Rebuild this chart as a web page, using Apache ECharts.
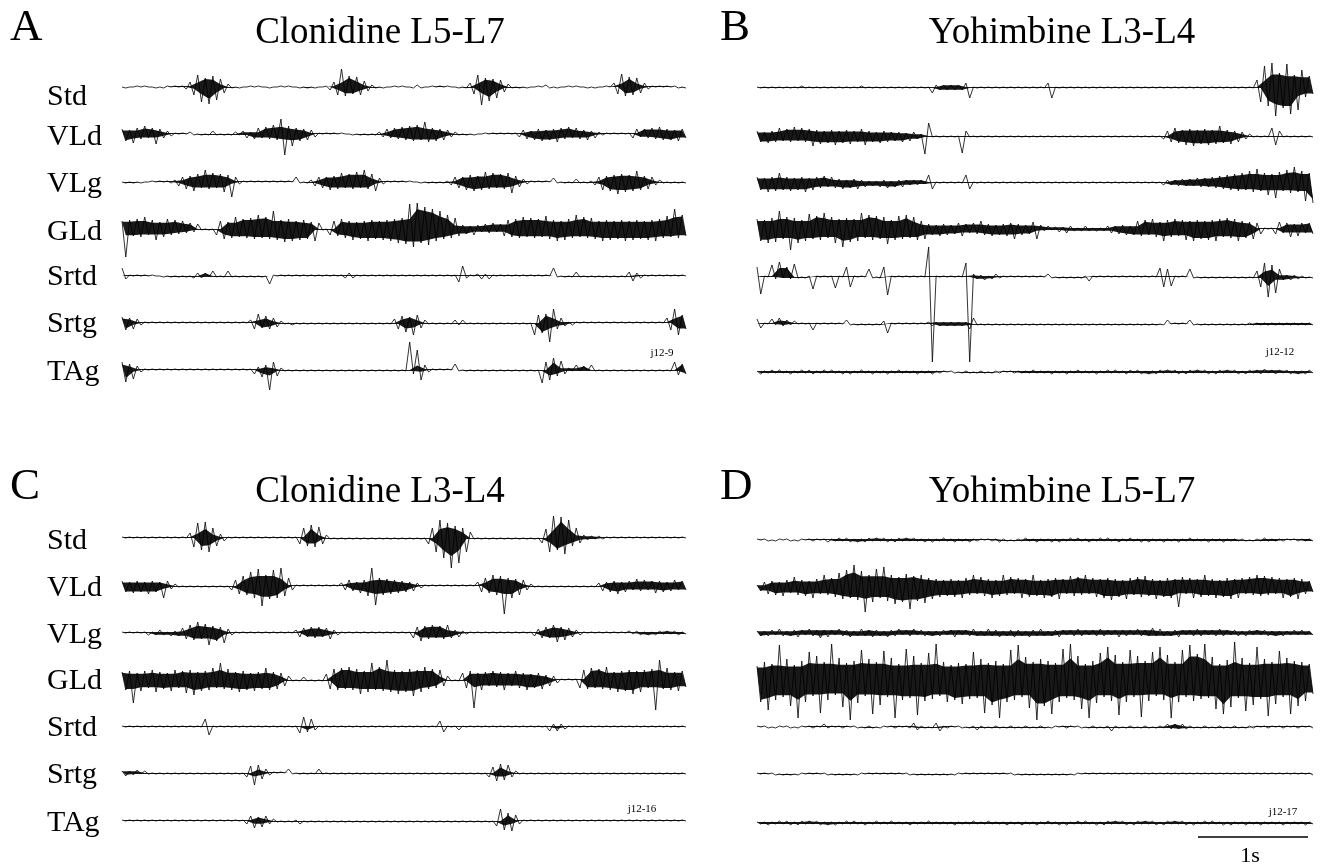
<!DOCTYPE html>
<html>
<head>
<meta charset="utf-8">
<title>EMG clonidine / yohimbine</title>
<script src="https://cdn.jsdelivr.net/npm/echarts@6/dist/echarts.min.js"></script>
<style>
html, body { margin: 0; padding: 0; background: #fff; }
#emg_chart { width: 1322px; height: 865px; }
</style>
</head>
<body>
<div id="emg_chart"></div>
<script>
//text of the figure
var panel_letters = ["A", "B", "C", "D"];
var panel_titles = ["Clonidine L5-L7", "Yohimbine L3-L4", "Clonidine L3-L4", "Yohimbine L5-L7"];
var trace_names = ["Std", "VLd", "VLg", "GLd", "Srtd", "Srtg", "TAg"];
var record_codes = ["j12-9", "j12-12", "j12-16", "j12-17"];
var scale_bar_label = "1s";

//peak excursions, alternately up / down (px)
//A  Clonidine L5-L7
var a_std = [0,1,0,0,1,0,1,0,0,1, 0,1,1,0,1,0,1,
	2,5,8,12,15,9,17,11,13,8, 6,3,
	1,0,1,0,0,1,0,1,0,0, 1,0,0,1,0,1,0,0,1,0, 1,0,1,0,0,1,
	3,5,8,18,9,11,7,10,8,6, 4,2,
	1,0,1,0,0,1,0,1,0,0, 1,2,1,0,0,1,0,1,0,1, 0,0,1,0,1,
	4,7,12,18,9,14,8,11,7,5, 3,
	1,0,1,0,1,0,0,1,0,2, 1,0,1,0,0,1,0,1,0,0, 1,0,1,0,0,1,0,
	4,7,13,9,10,8,9,6,4,2,
	1,0,1,0,1,0,1,1,0,1];
var a_vld = [5,7,4,9,6,5,8,4,6,10, 5,4,3,2,
	1,0,1,0,2,1,0,1,0,1, 3,1,0,1,0,1,2,1,
	3,4,2,5,6,4,7,5,9,6, 15,21,8,12,6,7,5,6,4,3,
	1,0,1,0,1,0,1,0,0,1, 0,1,0,1,0,1,
	2,3,5,4,6,5,7,6,8,7, 9,6,12,8,6,7,5,6,4,3, 2,
	1,0,1,0,1,0,0,1,0,1, 0,1,0,1,0,1,
	3,4,5,3,6,5,7,4,6,5, 8,6,5,7,4,6,5,4,6,3, 4,2,1,
	1,0,1,0,1,0,1,4,5,
	3,5,4,6,5,7,6,5,6,4, 7,5,4];
var a_vlg = [0,1,0,1,0,1,0,0,1,0, 1,0,1,1,
	2,4,5,7,6,9,8,6,12,7, 9,6,8,10,7,15,5,2,
	1,0,1,0,1,0,1,0,1,0, 1,0,1,0,5,1,0,1,
	2,4,5,6,5,8,6,7,9,6, 8,7,10,6,12,7,8,9,4,2,
	1,0,1,0,1,0,1,0,0,1, 0,1,0,1,0,1,1,
	3,5,6,5,8,7,9,6,8,10, 7,9,6,8,7,9,11,6,5,3, 2,
	1,0,1,0,1,0,4,1,0,1, 0,1,3,1,0,1,1,
	3,5,8,6,9,7,12,8,10,7, 9,11,8,6,7,5,3,2,
	1,0,1,0,1,0,1];
var a_gld = [8,28,9,7,10,8,12,6,9,11, 7,8,10,6,9,5,8,4,6,3, 5,
	1,0,1,0,
	6,8,10,7,9,12,8,10,9,11, 10,14,9,12,10,18,11,9,13,10, 12,8,11,9,10,7,12,6,
	1,0,
	6,8,7,10,9,8,11,7,10,8, 12,9,10,8,11,9,12,10,14,11, 15,25,18,26,14,22,16,20,12,18, 10,14,9,11,7,
	4,5,3,6,4,3,5,4,6,3, 5,
	7,9,8,10,9,12,8,11,9,10, 8,13,10,9,12,8,11,10,9,14, 8,12,9,11,10,8,12,9,11,8, 10,9,12,8,11,9,10,8,11,9, 12,10,9,13,8,20,9,14,7];
var a_srtd = [8,3,1,0,1,0,1,0,1,0,
	0,1,0,1,0,1,0,1,0,
	2,3,2,3,1,5,1,0,
	1,5,1,0,1,0,1,0,1,0, 1,0,
	8,1,0,1,0,1,0,1,0,1, 0,1,0,1,0,1,0,1,0,1,
	2,3,2,1,0,1,0,1,0,1, 0,1,0,1,0,1,0,1,0,1, 0,1,0,1,0,1,0,1,0,1,
	6,10,2,1,0,
	2,3,2,3,1,0,1,0,1,0, 1,0,1,0,1,0,1,0,1,0,
	8,1,0,1,0,1,4,1,0,1, 0,1,0,1,0,1,0,1,0,1,
	4,5,3,2,1,0,1,0,1,0, 1,0,1,0,1,0];
var a_srtg = [6,7,5,6,4,2,
	1,0,1,0,1,0,1,0,1,0, 1,0,1,0,1,0,1,0,1,0, 1,0,1,0,1,0,1,0,
	3,6,9,5,7,6,5,4,2,
	1,0,2,0,1,0,1,0,1,0, 1,0,1,0,1,0,1,0,1,0, 1,0,1,0,1,0,1,0,1,
	4,6,7,9,6,12,8,5,3,
	1,0,1,0,1,0,1,
	3,2,3,1,
	0,1,0,1,0,1,0,1,0,1, 0,1,0,1,0,1,0,
	12,8,10,9,19,14,6,5,3,
	1,2,1,0,1,0,1,0,1,0, 1,0,1,0,1,0,1,0,1,0, 1,0,1,0,1,0,
	5,7,14,12,8,6];
var a_tag = [8,12,6,9,4,2,
	1,0,1,0,1,0,1,0,1,0, 1,0,1,0,1,0,1,0,1,0, 1,0,1,0,1,0,1,0,1,
	4,3,7,5,20,8,6,2,
	1,0,1,0,1,0,1,0,1,0, 1,0,1,0,1,0,1,0,1,0, 1,0,1,0,1,0,1,0,1,0, 1,0,1,
	28,4,20,10,5,2,
	1,0,1,0,1,0,
	6,1,
	0,1,0,1,0,1,0,1,0,1, 0,1,0,1,0,1,0,1,0,1, 0,
	13,8,10,12,6,9,4,2,
	1,5,1,4,1,5,1,
	0,1,0,1,0,1,0,1,0,1, 0,1,0,1,0,1,0,1,0,1,
	8,5,6,4];

//B  Yohimbine L3-L4
var b_std = [1,0,1,0,1,0,1,0,1,0, 1,0,2,0,1,0,1,0,1,0, 1,0,1,0,1,0,1,0,2,0, 1,0,1,0,1,0,1,0,1,0, 1,0,1,0,1,0,1,
	5,3,2,3,2,3,2,3,2,5, 10,
	1,0,1,0,1,0,1,0,1,0, 1,0,1,0,1,0,1,0,1,0,
	5,10,
	1,0,1,0,1,0,1,0,1,0, 1,0,1,0,1,0,1,0,1,0, 1,0,1,0,1,0,1,0,1,0, 1,0,1,0,1,0,1,0,1,0, 1,0,1,0,1,0,1,0,1,0, 1,0,1,0,
	8,14,22,18,25,28,15,20,24,26, 13,22,18,9,12,6];
var b_vld = [5,6,4,7,5,6,8,5,7,6, 9,5,8,6,7,10,6,8,5,7, 6,9,5,7,6,8,5,6,7,9, 5,6,4,7,5,6,4,5,4,6, 3,5,4,3,2,
	18,13,
	1,0,1,0,1,0,1,0,
	17,5,
	1,0,1,0,1,0,1,0,1,0, 1,0,1,0,1,0,1,0,1,0, 1,0,1,0,1,0,1,0,1,0, 1,0,1,0,1,0,1,0,1,0, 1,0,1,0,1,0,1,0,1,0, 1,0,
	3,5,6,8,7,6,9,7,10,6, 8,7,9,6,8,10,7,6,8,5, 6,4,3,2,
	1,0,1,0,1,
	8,9,5,
	1,0,1,0,1,0,1,0,1];
var b_vlg = [6,7,5,9,6,8,10,7,6,8, 5,7,6,9,5,7,6,5,7,4, 6,5,4,6,3,5,4,6,3,4, 2,3,2,4,3,5,2,4,3,4, 3,2,3,2,3,1,
	8,6,
	1,0,1,0,1,0,1,0,
	8,6,
	1,0,1,0,1,0,1,0,1,0, 1,0,1,0,1,0,1,0,1,0, 1,0,1,0,1,0,1,0,1,0, 1,0,1,0,1,0,1,0,1,0, 1,0,1,0,1,0,1,0,1,0, 1,
	2,3,2,3,3,4,3,4,3,5, 4,5,4,6,
	5,7,6,8,7,9,8,10,7,12, 9,14,8,10,12,9,15,11,8,13, 10,16,9,12,18,10,20];
var b_gld = [10,12,9,14,11,13,18,10,12,21, 11,14,9,12,15,10,13,11,16,9, 12,14,10,18,11,13,10,12,16,9, 14,11,13,10,12,15,9,11,13,10, 14,9,12,11,8,10,
	5,6,4,7,5,6,4,5,6,7, 5,4,6,5,8,6,5,7,4,6, 5,7,6,10,5,6,4,5,7,10, 4,
	2,3,1,2,3,2,4,3,2,1, 2,3,2,1,2,1,2,3,4,3, 5,4,6,3,
	6,8,7,9,6,10,8,7,12,9, 8,10,7,9,11,8,12,9,10,8, 11,9,12,10,8,11,9,10,12,8, 9,7,10,6,5,
	1,0,1,
	5,7,4,6,8,5,7,6,4,6, 5];
var b_srtd = [10,17,
	1,0,12,2,15,1,10,2,13,1,
	0,1, 1,12, 1,0,1,0, 1,11, 1,0, 10,10, 1,0,1,0, 8,1, 0,1, 10,18,
	1,0,1,0,1,0,1,0,1,0,
	30,85,
	1,0,1,0,1,0,1,0,
	14,85,
	3,2,2,3,1,2,3,1,1,0, 1,0,
	1,0,1,0,1,0,1,0,3,1,
	0,1,0,1,0,1,0,1,1,4,
	1,0,1,0,1,0,1,0,1,0, 1,0,1,0,1,0,1,0,
	9,10,8,9,
	1,0,1,0,
	8,1,
	0,1,0,1,0,1,0,1,0,1, 0,1,0,1,0,1,
	6,10,14,20,12,16,8,
	3,2,3,2,2,1,
	1,0,1];
var b_srtg = [5,4,
	1,0,5,1,6,2,4,1,3,0,
	1,0,1,6,
	1,0,1,0,1,0,1,0,
	4,1,
	0,1,0,1,0,1,0,1,
	3,9,
	1,0,1,0,1,0,1,0,1,0,
	2,2,2,2,2,2,2,2,2,2, 2,
	5,6,
	1,0,1,0,1,0,1,0,1,0, 1,0,1,0,1,0,1,0,1,0, 1,0,1,0,1,0,1,0,1,0, 1,0,1,0,1,0,1,0,1,0, 1,0,1,0,1,0,1,0,1,0,
	1,4,
	0,1,0,1,0,
	4,1,
	0,1,0,1,0,1,0,1,0,1, 0,1,0,1,
	1,1,1,1,1,1,1,1,1,1, 1,1,1,1,1,1,1,1];
var b_tag = [1,2,1,1,2,1,2,1,1,2, 1,1,2,1,2,2,1,1,2,1, 2,1,1,2,1,2,1,1,2,1, 1,2,1,1,1,2,1,1,2,1, 1,1,1,2,1,1,1,2,1,1,
	1,0,1,1,0,1,1,1,0,1, 1,1,0,1,1,1,1,0,1,1, 1,1,1,1,2,1,1,1,1,2, 1,1,1,2,1,1,2,1,1,1, 1,2,1,1,2,1,2,1,1,2,
	2,1,2,2,1,2,1,2,2,1, 2,1,2,2,1,2,2,1,2,1, 2,2,1,2,2,1,2,1,2,2, 1,2,2,1,2,2,3,1,2,2, 2,1,2,2,1,2,1,2,2,1];

//C  Clonidine L3-L4
var c_std = [1,0,1,0,1,0,1,0,1,0, 1,0,1,0,1,0,1,0,
	5,9,15,12,16,14,10,8,4,3,
	1,0,1,0,1,0,1,0,1,0, 1,0,1,0,1,0,1,0,1,
	6,10,8,13,9,11,6,3,
	1,0,1,0,1,0,1,0,1,0, 1,0,1,0,1,0,1,0,1,0, 1,0,1,0,1,0,
	6,10,14,18,20,15,30,12,25,10, 14,6,
	1,0,1,0,1,0,1,0,1,0, 1,0,1,0,1,0,1,0,
	5,9,14,22,12,21,16,18,8,10, 5,3,
	2,2,1,2,1,
	1,0,1,0,1,0,1,0,1,0, 1,0,1,0,1,0,1,0,1,0, 1,0];
var c_vld = [5,6,4,7,5,6,4,8,5,6, 4,12,5,3,2,
	1,0,1,0,1,0,1,0,1,0, 1,0,1,0,
	4,6,8,10,9,14,12,17,20,11, 13,16,12,18,10,8,4,
	1,0,1,0,1,0,1,0,1,0, 1,0,
	3,4,6,5,4,7,6,10,18,19, 8,9,7,8,6,7,5,6,4,5, 3,2,
	1,0,1,0,1,0,1,0,1,0, 1,0,1,0,
	4,6,8,7,11,9,10,28,8,12, 7,9,6,4,2,
	1,0,1,0,1,0,1,0,1,0, 1,0,1,0,1,0,1,
	3,5,4,6,5,8,4,6,5,4, 7,5,6,4,5,7,5,6,4,5, 6,4,5,4];
var c_vlg = [1,0,1,0,1,0,1,
	2,1,2,3,2,1,3,2,
	3,5,6,8,7,11,6,9,12,7, 8,6,10,4,2,
	1,0,1,0,1,0,1,0,1,0, 1,0,1,0,1,0,
	3,4,5,4,6,5,6,4,5,6, 3,2,
	1,0,1,0,1,0,1,0,1,0, 1,0,1,0,1,0,1,0,1,
	5,6,8,7,6,8,5,7,6,8, 5,3,4,2,1,
	1,0,1,0,1,0,1,0,1,0, 1,0,1,0,1,0,1,
	3,4,5,6,5,8,9,6,7,5, 4,3,2,
	1,0,1,0,1,0,1,0,1,0, 1,0,
	2,1,2,2,1,2,1,2,2,1, 2,1,2,2,1,1];
var c_gld = [8,10,9,23,7,11,9,8,10,12, 8,9,7,11,10,8,9,13,10,15, 8,11,9,10,12,8,17,9,11,10, 8,12,9,10,7,11,8,9,12,10, 8,9,7,6,4,
	1,0,1,3,1,0,1,0,1,
	6,9,11,10,12,9,13,10,11,14, 9,12,17,10,13,11,20,12,10,14, 9,12,11,16,10,12,13,9,11,8, 10,6,4,
	1,0,1,
	7,8,9,28,7,10,8,6,9,7, 8,10,7,6,9,8,7,10,6,8, 7,9,5,6,4,3,
	1,0,1,0,1,
	8,10,9,12,8,11,9,13,10,8, 12,9,11,10,14,9,12,10,8,11, 30,20,9,12,10,8,11,9,7];
var c_srtd = [1,0,1,0,1,0,1,0,1,0, 1,0,1,0,1,0,1,0,1,0, 1,0,
	8,8,
	1,0,1,0,1,0,1,0,1,0, 1,0,1,0,1,0,1,0,1,0, 1,0,1,
	6,10,5,8,3,
	1,0,1,0,1,0,1,0,1,0, 1,0,1,0,1,0,1,0,1,0, 1,0,1,0,1,0,1,0,1,0, 1,0,
	6,5,
	1,0,1,
	3,1,
	0,1,0,1,0,1,0,1,0,1, 0,1,0,1,0,1,0,1,0,1, 0,1,
	4,3,4,3,2,
	1,0,1,0,1,0,1,0,1,0, 1,0,1,0,1,0,1,0,1,0, 1,0,1,0,1,0,1,0,1,0, 1,0];
var c_srtg = [2,3,2,2,3,1,2,
	1,0,1,0,1,0,1,0,1,0, 1,0,1,0,1,0,1,0,1,0, 1,0,1,0,1,0,
	4,7,12,8,6,4,2,
	1,0,1,0,4,1,0,1,0,1, 0,1,
	4,1,
	0,1,0,1,0,1,0,1,0,1, 0,1,0,1,0,1,0,1,0,1, 0,1,0,1,0,1,0,1,0,1, 0,1,0,1,0,1,0,1,0,1, 0,1,0,
	4,6,8,9,7,8,4,2,
	1,0,1,0,1,0,1,0,1,0, 1,0,1,0,1,0,1,0,1,0, 1,0,1,0,1,0,1,0,1,0, 1,0,1,0,1,0,1,0,1,0, 1,0,1,0,1];
var c_tag = [1,0,1,0,1,0,1,0,1,0, 1,0,1,0,1,0,1,0,1,0, 1,0,1,0,1,0,1,0,1,0, 1,0,1,
	3,5,7,4,6,5,3,2,1,
	0,1,0,1,
	1,3,
	0,1,0,1,0,1,0,1,0,1, 0,1,0,1,0,1,0,1,0,1, 0,1,0,1,0,1,0,1,0,1, 0,1,0,1,0,1,0,1,0,1, 0,1,0,1,0,1,0,1,0,1, 0,
	5,12,9,8,10,6,3,
	1,0,1,0,1,0,1,0,1,0, 1,0,1,0,1,0,1,0,1,0, 1,0,1,0,1,0,1,0,1,0, 1,0,1,0,1,0,1,0,1,0, 1,0,1,0];

//D  Yohimbine L5-L7
var d_std = [1,0,1,1,0,1,1,0,1,1, 0,1,1,0,1,1,1,0,1,2, 1,1,2,1,2,2,1,2,1,2, 2,1,2,1,2,2,1,2,2,1, 2,1,2,1,1,2,1,2,1,1,
	2,1,1,2,1,1,1,2,1,1, 1,0,1,1,1,2,1,1,0,1, 1,1,2,1,1,2,1,1,1,2, 1,2,1,1,2,1,2,1,1,2, 1,1,2,1,2,1,1,2,1,1,
	2,1,1,2,1,2,1,1,1,2, 1,1,1,2,1,1,2,1,1,1, 1,2,1,1,1,2,1,1,1,1, 1,1,0,1,1,1,2,1,1,1, 1,1,1,0,1,1,1,1,1,1];
var d_vld = [2,4,5,7,6,8,5,9,7,6, 10,8,7,9,6,11,8,7,12,8,
	9,10,14,12,17,11,22,13,16,25, 12,15,18,11,20,14,12,17,10,15, 13,22,11,14,12,16,9,12,8,10,
	7,9,8,10,7,11,9,8,12,7, 10,9,8,11,7,9,12,8,10,7, 9,11,8,10,12,9,7,11,8,10, 9,12,8,7,11,9,10,8,12,7, 9,10,8,11,9,13,8,10,7,12,
	9,8,10,10,11,9,8,12,7,10, 9,11,8,20,10,7,9,11,8,10, 12,9,8,11,7,10,9,12,8,11, 9,7,10,8,12,9,11,8,10,7, 9,11,8,10,9,12,8,7,6,5];
var d_vlg = [2,3,2,3,3,2,4,3,2,3, 3,4,3,2,4,3,3,5,3,4, 3,2,4,3,3,4,2,3,4,3, 3,4,3,3,2,4,3,3,4,2, 3,3,4,2,3,3,2,3,2,3,
	3,2,3,4,3,2,3,3,4,3, 2,3,4,3,3,4,2,3,3,4, 3,3,2,4,3,3,4,3,2,3, 3,4,3,2,3,3,4,3,3,2, 3,3,4,3,3,2,3,4,3,3,
	3,2,4,3,3,3,5,3,4,3, 2,3,3,4,3,2,3,3,4,3, 3,2,3,3,4,3,3,2,3,3, 2,3,3,2,3,2,3,3,2,3, 2,3,2,2,3,2,3,2,2,2];
var d_gld = [14,22,18,30,16,20,35,17,21,26, 15,38,19,22,28,16,24,33,18,20, 36,15,22,27,17,40,19,23,30,16, 21,34,18,25,29,17,22,38,16,20, 31,18,24,35,17,21,27,19,36,16,
	18,22,15,20,17,24,16,19,28,18, 21,33,17,25,19,38,16,22,30,20, 35,17,23,28,18,40,21,26,19,34, 17,22,31,18,36,20,24,29,16,38, 19,23,27,17,33,21,25,35,18,22,
	30,17,24,37,19,21,28,16,33,20, 25,38,18,22,30,17,35,21,26,19, 36,18,23,29,16,34,20,27,38,18, 22,31,17,25,33,19,21,36,18,24, 29,17,22,34,19,26,18,21,16,14];
var d_srtd = [1,0,1,1,0,1,1,0,1,1, 0,1,1,0,1,1,1,0,3,1, 1,0,1,1,1,0,1,1,0,1, 1,1,0,1,1,0,1,1,1,0, 1,1,4,3,1,1,0,1,4,4,
	1,1,1,0,1,1,0,1,1,3, 1,1,0,1,1,1,0,1,1,1, 0,1,1,1,0,1,1,1,0,1, 1,0,1,1,1,0,1,1,0,1, 1,1,0,1,1,4,1,1,0,1,
	1,1,0,1,1,1,0,1,1,1, 3,2,3,2,3,2,1,1,0,1, 1,1,0,1,1,1,0,1,1,1, 0,1,1,1,1,0,1,1,1,0, 1,1,1,0,1,1,1,0,1,1];
var d_srtg = [1,0,1,0,1,1,0,1,0,1, 0,1,1,0,1,0,1,0,1,1, 0,1,0,1,0,1,0,1,1,0, 1,0,1,0,1,0,1,0,1,0, 1,1,0,1,0,1,0,1,0,1,
	0,1,0,1,1,0,1,0,1,0, 1,0,1,0,1,0,1,0,1,1, 0,1,0,1,0,1,0,1,0,1, 0,1,0,1,0,1,1,0,1,0, 1,0,1,0,1,0,1,0,1,0,
	1,0,1,0,1,0,1,0,1,0, 1,0,1,0,1,0,1,0,1,0, 1,0,1,0,1,0,1,0,1,0, 1,0,1,0,1,0,1,0,1,0, 1,0,1,0,1,0,1,0,1,1];
var d_tag = [1,1,1,2,1,1,2,1,2,2, 1,2,2,1,2,1,2,2,1,2, 1,2,1,1,2,1,2,1,1,2, 1,1,2,1,1,1,2,1,1,1, 1,2,1,1,1,1,2,1,1,1,
	1,1,1,2,1,1,1,1,2,1, 1,1,2,1,1,1,1,2,1,1, 1,2,1,1,1,2,1,1,2,1, 1,2,1,2,1,1,2,1,2,1, 1,2,1,2,2,1,2,1,2,2,
	1,2,2,1,2,1,2,2,1,2, 2,1,2,1,2,2,1,2,1,1, 2,1,2,1,1,2,1,2,1,1, 1,2,1,1,1,2,1,1,1,1, 1,2,1,1,1,1,1,2,1,1];

var panel_traces = [
	[a_std, a_vld, a_vlg, a_gld, a_srtd, a_srtg, a_tag],
	[b_std, b_vld, b_vlg, b_gld, b_srtd, b_srtg, b_tag],
	[c_std, c_vld, c_vlg, c_gld, c_srtd, c_srtg, c_tag],
	[d_std, d_vld, d_vlg, d_gld, d_srtd, d_srtg, d_tag]
];

//页面布局 (px)
var panel_layout = [
	{ left: 122, width: 564, base: [87, 134, 182, 229, 276, 323, 370], letter: [10, 28], title: [380, 33], label_y: [97, 137, 184, 232, 277, 324, 372], code: [662, 353] },
	{ left: 757, width: 556, base: [88, 136, 183, 229, 277, 324, 372], letter: [720, 28], title: [1062, 33], label_y: null, code: [1280, 352] },
	{ left: 122, width: 564, base: [538, 586, 633, 680, 727, 773, 821], letter: [10, 487], title: [380, 492], label_y: [541, 588, 635, 681, 728, 775, 823], code: [642, 809] },
	{ left: 757, width: 556, base: [540, 587, 633, 680, 727, 774, 823], letter: [720, 487], title: [1062, 492], label_y: null, code: [1283, 812] }
];
var serif_font = '"Liberation Serif", "Times New Roman", serif';
var core_ratio = 0.9;

function EmgFigure() {
	this.grid = [];
	this.x_axis = [];
	this.y_axis = [];
	this.series = [];
	this.graphic = [];
}
EmgFigure.prototype.init = function(){
	this.build_traces();
	this.build_texts();
	this.load_chart();
}
//one small grid per trace
EmgFigure.prototype.build_traces = function(){
	for(var p = 0; p < panel_traces.length; p++){
		var layout = panel_layout[p];
		for(var t = 0; t < panel_traces[p].length; t++){
			var values = panel_traces[p][t];
			var idx = this.grid.length;
			var points = values.map(function(v, i){
				return [i, i % 2 === 0 ? v : -v];
			});
			this.grid.push({
				left: layout.left,
				top: layout.base[t] - 30,
				width: layout.width,
				height: 60,
				show: false
			});
			this.x_axis.push({ type: "value", gridIndex: idx, min: 0, max: values.length - 1, show: false });
			this.y_axis.push({ type: "value", gridIndex: idx, min: -30, max: 30, show: false });
			//dark core of the discharge
			this.series.push({
				type: "custom",
				xAxisIndex: idx,
				yAxisIndex: idx,
				silent: true,
				clip: false,
				data: [0],
				renderItem: this.core_renderer(values)
			});
			//raw zig-zag on top
			this.series.push({
				name: trace_names[t] + " " + panel_letters[p],
				type: "line",
				xAxisIndex: idx,
				yAxisIndex: idx,
				symbol: "none",
				clip: false,
				silent: true,
				lineStyle: { color: "#000", width: 0.8 },
				data: points
			});
		}
	}
}
//core = smallest of a peak and its same-side neighbours, so lone spikes stay thin
EmgFigure.prototype.core_renderer = function(values){
	return function(params, api){
		var upper = [];
		var lower = [];
		var n = values.length;
		for(var i = 0; i < n; i++){
			var a = values[Math.max(i - 2, i % 2)];
			var b = values[i + 2 < n ? i + 2 : i];
			var c = Math.min(values[i], a, b) * core_ratio;
			if(i % 2 === 0){
				upper.push(api.coord([i, c]));
			}else{
				lower.push(api.coord([i, -c]));
			}
		}
		return {
			type: "polygon",
			shape: { points: upper.concat(lower.reverse()) },
			style: { fill: "#000", opacity: 0.9 }
		};
	};
}
//letters, titles, labels, scale bar
EmgFigure.prototype.build_texts = function(){
	for(var p = 0; p < panel_layout.length; p++){
		var layout = panel_layout[p];
		this.graphic.push({
			type: "text", silent: true,
			style: { text: panel_letters[p], x: layout.letter[0], y: layout.letter[1], font: "45px " + serif_font, fill: "#000", align: "left", verticalAlign: "middle" }
		});
		this.graphic.push({
			type: "text", silent: true,
			style: { text: panel_titles[p], x: layout.title[0], y: layout.title[1], font: "37px " + serif_font, fill: "#000", align: "center", verticalAlign: "middle" }
		});
		this.graphic.push({
			type: "text", silent: true,
			style: { text: record_codes[p], x: layout.code[0], y: layout.code[1], font: "11px " + serif_font, fill: "#000", align: "center", verticalAlign: "middle" }
		});
		if(layout.label_y){
			for(var t = 0; t < trace_names.length; t++){
				this.graphic.push({
					type: "text", silent: true,
					style: { text: trace_names[t], x: 47, y: layout.label_y[t], font: "30px " + serif_font, fill: "#000", align: "left", verticalAlign: "middle" }
				});
			}
		}
	}
	this.graphic.push({
		type: "line", silent: true,
		shape: { x1: 1198, y1: 837, x2: 1308, y2: 837 },
		style: { stroke: "#000", lineWidth: 1.5 }
	});
	this.graphic.push({
		type: "text", silent: true,
		style: { text: scale_bar_label, x: 1250, y: 856, font: "22px " + serif_font, fill: "#000", align: "center", verticalAlign: "middle" }
	});
}
EmgFigure.prototype.load_chart = function(){
	var emg_chart = echarts.init(document.getElementById("emg_chart"));
	var option = {
		backgroundColor: "#fff",
		animation: false,
		grid: this.grid,
		xAxis: this.x_axis,
		yAxis: this.y_axis,
		series: this.series,
		graphic: this.graphic
	};
	emg_chart.setOption(option, true);
	window.onresize = function(){
		emg_chart.resize();
	}
}
var start_emg_figure = new EmgFigure();
start_emg_figure.init();
</script>
</body>
</html>
